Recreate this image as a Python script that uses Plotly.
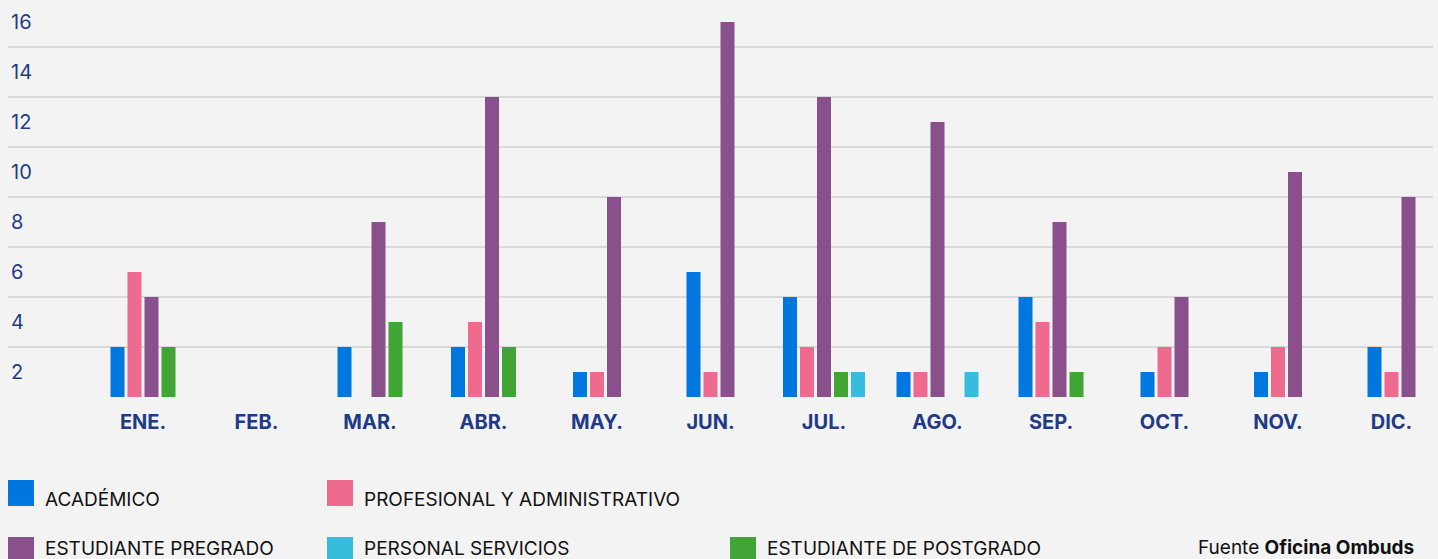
import plotly.graph_objects as go

# ---------------- data ----------------
months = ["ENE.", "FEB.", "MAR.", "ABR.", "MAY.", "JUN.", "JUL.", "AGO.", "SEP.", "OCT.", "NOV.", "DIC."]
academico = [2, None, 2, 2, 1, 5, 4, 1, 4, 1, 1, 2]
profesional = [5, None, 0, 3, 1, 1, 2, 1, 3, 2, 2, 1]
pregrado = [4, None, 7, 12, 8, 15, 12, 11, 7, 4, 9, 8]
postgrado = [2, None, 3, 2, None, None, 1, 0, 1, None, None, None]
servicios = [None, None, None, None, None, None, 1, 1, None, None, None, None]
y_tick_values = [1, 3, 5, 7, 9, 11, 13, 15]
y_tick_labels = ["2", "4", "6", "8", "10", "12", "14", "16"]
grid_values = [2, 4, 6, 8, 10, 12, 14]
source_text = "Fuente <b>Oficina Ombuds</b>"

# ---------------- styles ----------------
BG = "#f3f3f3"
NAVY = "#1f3b87"
GRID = "#d9d9d9"
colors = {
    "ACADÉMICO": "#0077df",
    "PROFESIONAL Y ADMINISTRATIVO": "#ee6b8f",
    "ESTUDIANTE PREGRADO": "#8a508c",
    "ESTUDIANTE DE POSTGRADO": "#40a535",
    "PERSONAL SERVICIOS": "#38bcde",
}
# order of bars inside each month group
bar_series = [
    ("ACADÉMICO", academico),
    ("PROFESIONAL Y ADMINISTRATIVO", profesional),
    ("ESTUDIANTE PREGRADO", pregrado),
    ("ESTUDIANTE DE POSTGRADO", postgrado),
    ("PERSONAL SERVICIOS", servicios),
]

W, H = 1438, 559
PL, PR, PT, PB = 8, 1433, 0, 397        # plot area in pixels
CAT_PX = 113.5                           # pixels per month
FIRST_CENTER = 143                       # pixel of first month centre
PX_PER_UNIT = 25

x_lo = (PL - FIRST_CENTER) / CAT_PX
x_hi = x_lo + (PR - PL) / CAT_PX
y_hi = (PB - PT) / PX_PER_UNIT

bar_w = 14 / CAT_PX
step = 17 / CAT_PX

# offsets: only non-null bars take a slot, group centred on month
offsets = {name: [0.0] * len(months) for name, _ in bar_series}
for i in range(len(months)):
    present = [name for name, vals in bar_series if vals[i] is not None]
    n = len(present)
    total = n * step - (step - bar_w)
    for k, name in enumerate(present):
        offsets[name][i] = -total / 2 + k * step

fig = go.Figure()
xs = list(range(len(months)))
for name, vals in bar_series:
    fig.add_trace(go.Bar(
        x=xs, y=vals, name=name,
        offset=offsets[name], width=bar_w,
        marker=dict(color=colors[name], line=dict(width=0)),
        showlegend=False,
    ))


def px_x(p):
    return (p - PL) / (PR - PL)


def px_y(p):
    return (PB - p) / (PB - PT)


# custom legend: (name, left px, square top px, text cap-centre px)
legend_layout = [
    ("ACADÉMICO", 8, 480, 499),
    ("PROFESIONAL Y ADMINISTRATIVO", 327, 480, 499),
    ("ESTUDIANTE PREGRADO", 8, 537, 548),
    ("PERSONAL SERVICIOS", 327, 537, 548),
    ("ESTUDIANTE DE POSTGRADO", 730, 537, 548),
]
shapes = []
annotations = []
for name, lx, sq_top, tc in legend_layout:
    shapes.append(dict(
        type="rect", xref="paper", yref="paper",
        x0=px_x(lx), x1=px_x(lx + 26), y0=px_y(sq_top + 26), y1=px_y(sq_top),
        fillcolor=colors[name], line=dict(width=0), layer="above",
    ))
    annotations.append(dict(
        xref="paper", yref="paper", x=px_x(lx + 35), y=px_y(tc),
        xanchor="left", yanchor="middle", showarrow=False, text=name,
        font=dict(family="Inter", size=19, color="#111111"),
    ))
annotations.append(dict(
    xref="paper", yref="paper", x=px_x(1416), y=px_y(547),
    xanchor="right", yanchor="middle", showarrow=False, text=source_text,
    font=dict(family="Inter", size=19, color="#111111"),
))

fig.update_layout(
    width=W, height=H,
    margin=dict(l=PL, r=W - PR, t=PT, b=H - PB, pad=0),
    paper_bgcolor=BG, plot_bgcolor=BG,
    barmode="overlay",
    shapes=shapes, annotations=annotations,
    xaxis=dict(
        range=[x_lo, x_hi], tickmode="array", tickvals=xs, ticktext=months,
        showgrid=False, zeroline=False, showline=False, ticks="",
        tickfont=dict(family="Inter", size=20, color=NAVY, weight="bold"),
        ticklabelstandoff=11, fixedrange=True,
    ),
    yaxis=dict(
        range=[0, y_hi], tickmode="array", tickvals=y_tick_values, ticktext=y_tick_labels,
        showgrid=False, zeroline=False, showline=False, ticks="",
        ticklabelposition="inside",
        tickfont=dict(family="Inter", size=20, color=NAVY),
        minor=dict(tickmode="array", tickvals=grid_values, showgrid=True,
                   gridcolor=GRID, gridwidth=2, ticks=""),
        fixedrange=True,
    ),
)

fig.write_html(
    "out.html",
    config={"displayModeBar": False},
    post_script=(
        "document.documentElement.style.margin='0';"
        "document.body.style.margin='0';"
        "document.body.style.background='#f3f3f3';"
        "document.body.style.overflow='hidden';"
    ),
)
